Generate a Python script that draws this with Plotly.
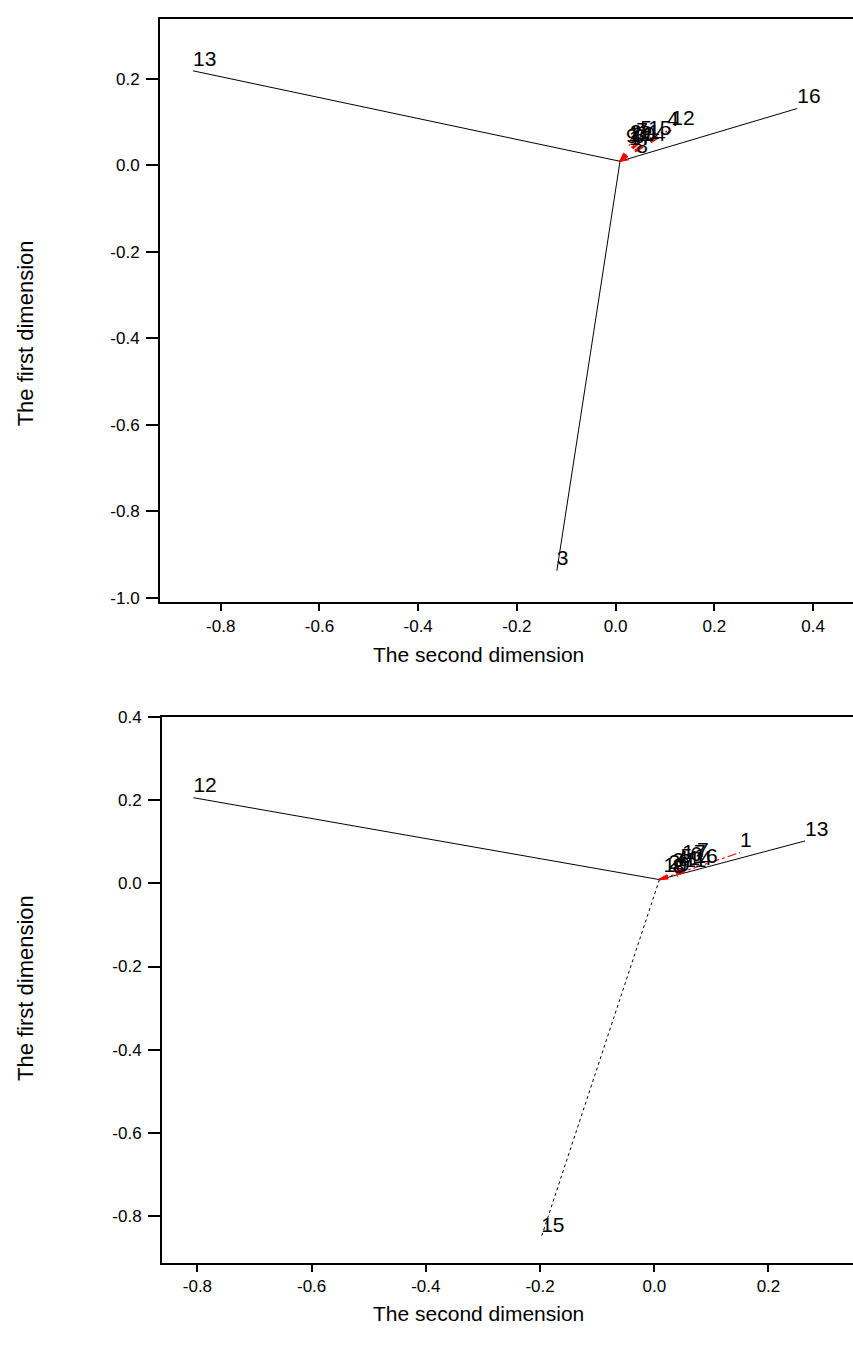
import plotly.graph_objects as go

# ---------------- data: top panel ----------------
top_center = [0.009, 0.009]
top_labels = ["13", "16", "3", "1", "2", "4", "5", "6", "7", "8", "9", "10", "11", "12", "14", "15", "17"]
top_x = [-0.856, 0.368, -0.119, 0.025, 0.029, 0.104, 0.050, 0.036, 0.042, 0.042, 0.021, 0.033, 0.045, 0.113, 0.054, 0.066, 0.027]
top_y = [0.218, 0.131, -0.937, 0.043, 0.048, 0.079, 0.057, 0.039, 0.052, 0.016, 0.039, 0.043, 0.048, 0.081, 0.043, 0.057, 0.034]
top_style = ["solid", "solid", "solid"] + ["red"] * 14

# ---------------- data: bottom panel ----------------
bot_center = [0.009, 0.009]
bot_labels = ["12", "13", "15", "1", "2", "3", "4", "5", "6", "7", "8", "9", "10", "11", "14", "16", "17"]
bot_x = [-0.807, 0.264, -0.198, 0.150, 0.025, 0.032, 0.039, 0.046, 0.063, 0.075, 0.032, 0.042, 0.016, 0.053, 0.060, 0.070, 0.049]
bot_y = [0.206, 0.102, -0.852, 0.074, 0.021, 0.026, 0.031, 0.036, 0.040, 0.050, 0.012, 0.017, 0.014, 0.026, 0.031, 0.036, 0.045]
bot_style = ["solid", "solid", "dot"] + ["reddash"] + ["red"] * 13

top_xticks = [-0.8, -0.6, -0.4, -0.2, 0.0, 0.2, 0.4]
top_yticks = [-1.0, -0.8, -0.6, -0.4, -0.2, 0.0, 0.2]
bot_xticks = [-0.8, -0.6, -0.4, -0.2, 0.0, 0.2]
bot_yticks = [-0.8, -0.6, -0.4, -0.2, 0.0, 0.2, 0.4]

FONT = "Liberation Sans, Arial, sans-serif"

fig = go.Figure()


def add_panel(center, labels, xs, ys, styles, xa, ya):
    groups = {
        "solid": dict(color="black", width=1, dash="solid"),
        "dot": dict(color="black", width=1, dash="dot"),
        "red": dict(color="red", width=1.3, dash="dash"),
        "reddash": dict(color="red", width=1.1, dash="dashdot"),
    }
    for key, line in groups.items():
        lx, ly = [], []
        for x, y, s in zip(xs, ys, styles):
            if s == key:
                lx += [center[0], x, None]
                ly += [center[1], y, None]
        if lx:
            fig.add_trace(go.Scatter(x=lx, y=ly, mode="lines", line=line,
                                     xaxis=xa, yaxis=ya, showlegend=False,
                                     hoverinfo="skip"))
    fig.add_trace(go.Scatter(x=xs, y=ys, mode="text", text=labels,
                             textposition="top right",
                             textfont=dict(family=FONT, size=21, color="black"),
                             xaxis=xa, yaxis=ya, showlegend=False))


add_panel(top_center, top_labels, top_x, top_y, top_style, "x", "y")
add_panel(bot_center, bot_labels, bot_x, bot_y, bot_style, "x2", "y2")


def fmt(vals):
    return ["%.1f" % v for v in vals]


W, H = 853, 1352
axis_common = dict(showline=True, linecolor="black", linewidth=2, ticks="outside",
                   tickcolor="black", tickwidth=1.5, showgrid=False, zeroline=False,
                   tickfont=dict(family=FONT, size=17, color="black"))

fig.update_layout(
    width=W, height=H,
    margin=dict(l=0, r=0, t=0, b=0),
    paper_bgcolor="white", plot_bgcolor="white",
    xaxis=dict(domain=[160 / W, 1.0], range=[-0.923, 0.481], tickvals=top_xticks,
               ticktext=fmt(top_xticks), anchor="y", mirror=True, ticklen=7,
               ticklabelstandoff=0, **axis_common),
    yaxis=dict(domain=[1 - 600 / H, 1 - 10 / H], range=[-1.01, 0.338], tickvals=top_yticks,
               ticktext=fmt(top_yticks), anchor="x", ticklen=12, ticklabelstandoff=3,
               **axis_common),
    xaxis2=dict(domain=[162 / W, 1.0], range=[-0.862, 0.348], tickvals=bot_xticks,
                ticktext=fmt(bot_xticks), anchor="y2", mirror=True, ticklen=7,
                ticklabelstandoff=0, **axis_common),
    yaxis2=dict(domain=[1 - 1268 / H, 1 - 716 / H], range=[-0.913, 0.4], tickvals=bot_yticks,
                ticktext=fmt(bot_yticks), anchor="x2", ticklen=12, ticklabelstandoff=3,
                **axis_common),
    annotations=[
        dict(text="The second dimension", x=478 / W, y=1 - 653 / H, xref="paper", yref="paper",
             xanchor="center", yanchor="middle", showarrow=False,
             font=dict(family=FONT, size=21, color="black")),
        dict(text="The second dimension", x=478 / W, y=1 - 1319 / H, xref="paper", yref="paper",
             xanchor="center", yanchor="middle", showarrow=False,
             font=dict(family=FONT, size=21, color="black")),
        dict(text="The first dimension", x=25 / W, y=1 - 328 / H, xref="paper", yref="paper",
             xanchor="center", yanchor="middle", showarrow=False, textangle=-90,
             font=dict(family=FONT, size=22, color="black")),
        dict(text="The first dimension", x=25 / W, y=1 - 990 / H, xref="paper", yref="paper",
             xanchor="center", yanchor="middle", showarrow=False, textangle=-90,
             font=dict(family=FONT, size=22, color="black")),
    ],
)

fig.write_html("out.html")
